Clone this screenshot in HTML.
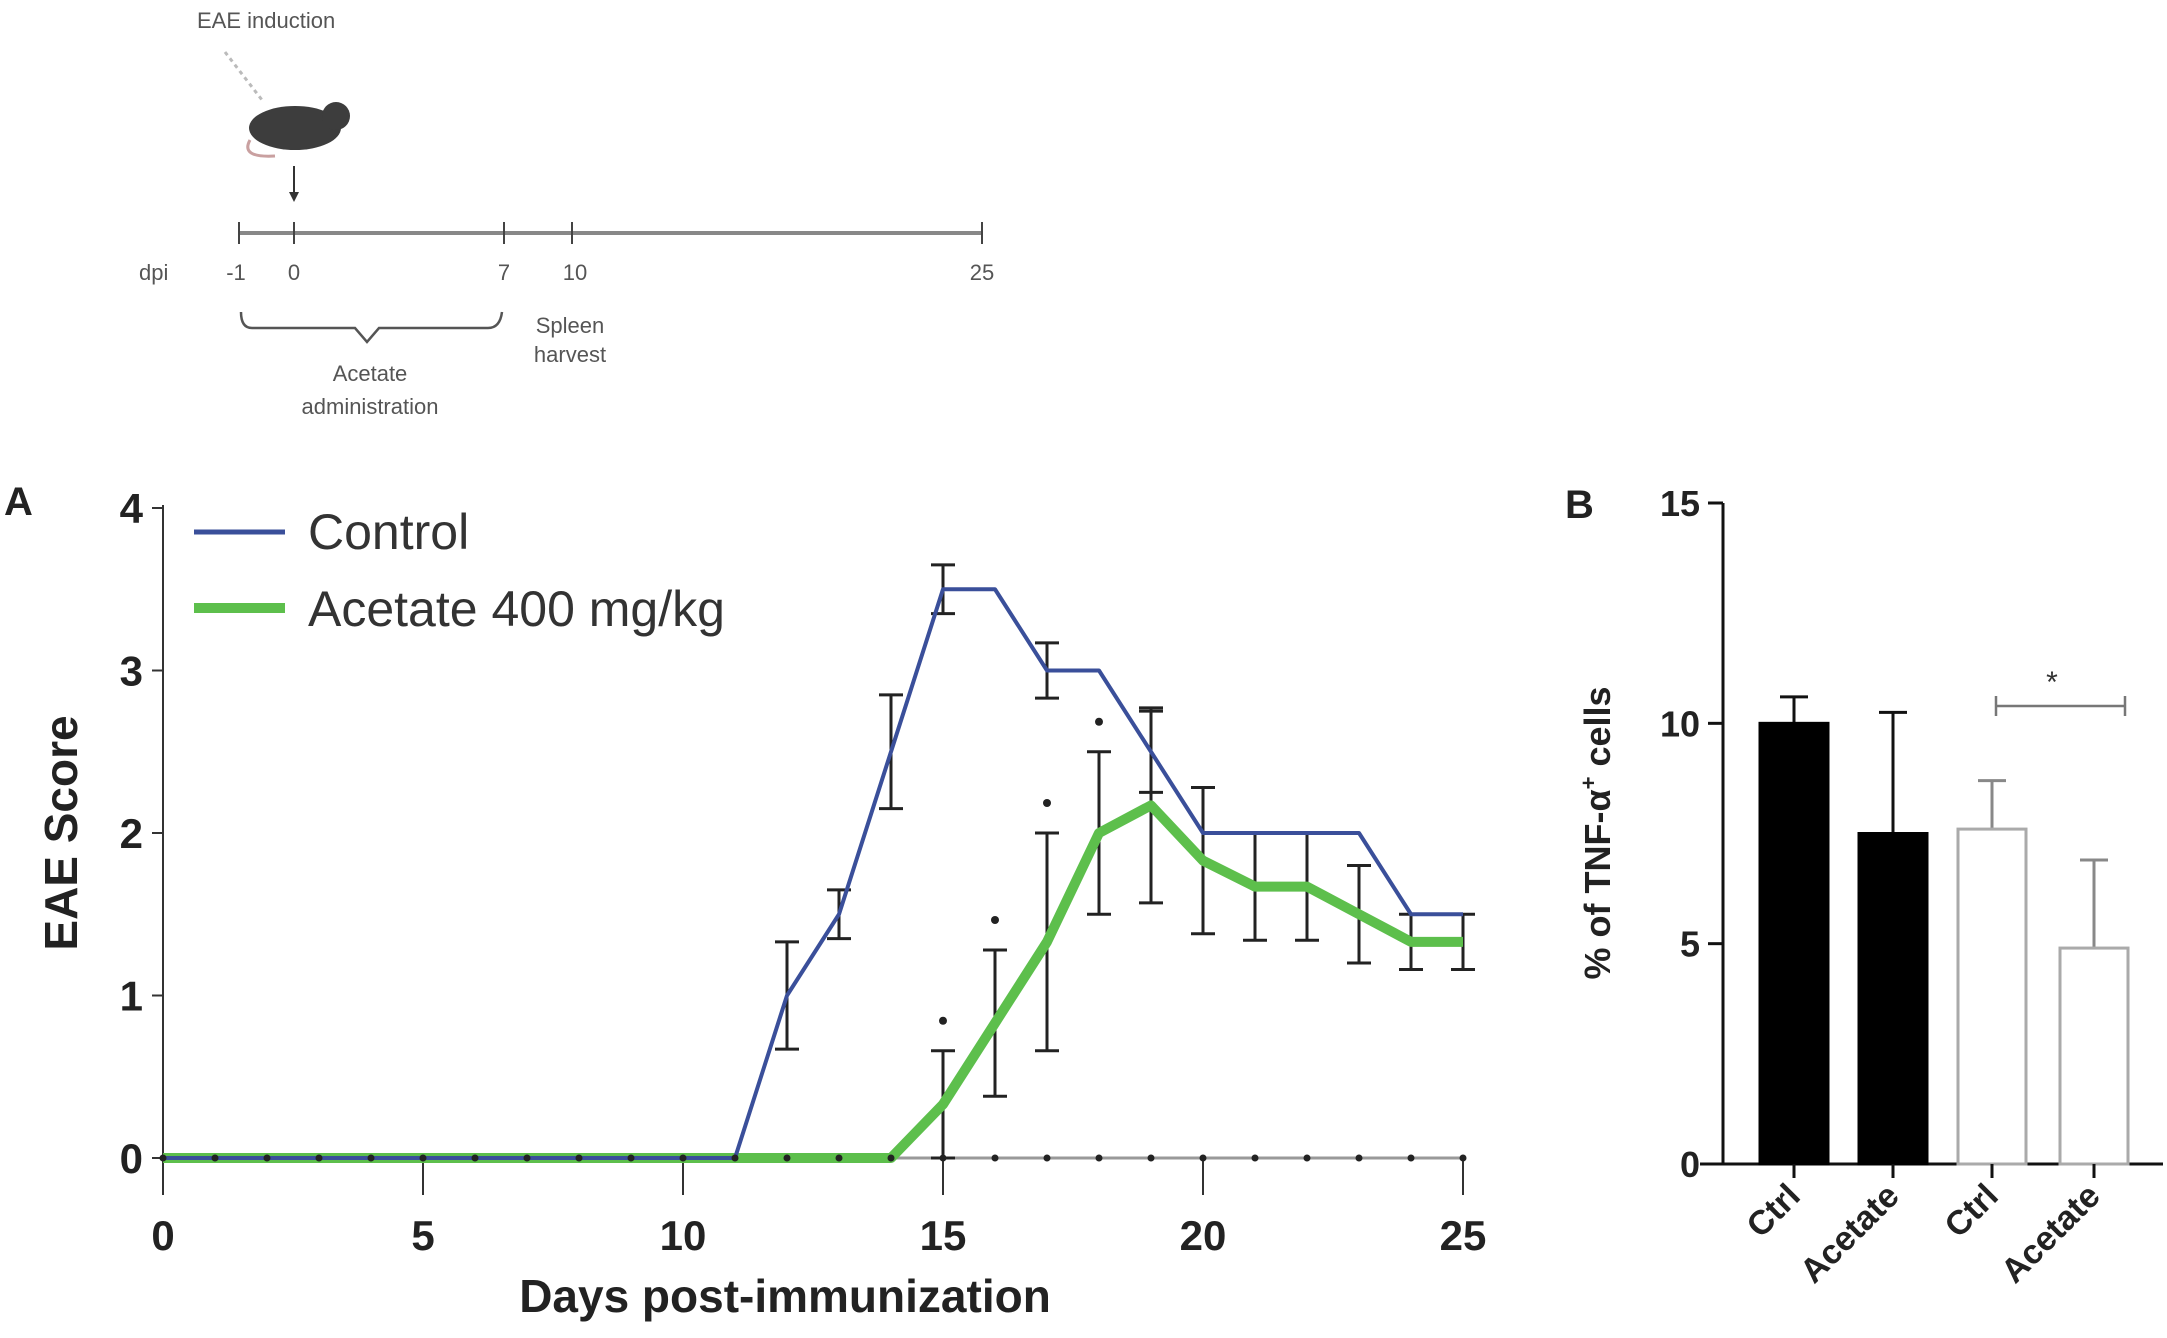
<!DOCTYPE html>
<html><head><meta charset="utf-8">
<style>
html,body{margin:0;padding:0;background:#fff;}
svg{display:block;font-family:"Liberation Sans",Arial,sans-serif;}
</style></head>
<body>
<svg id="fig" width="2167" height="1338" viewBox="0 0 2167 1338">
 <g id="timeline" fill="#555" font-size="22">
  <text x="197" y="28">EAE induction</text>
  <line x1="225" y1="52" x2="262" y2="100" stroke="#bbb" stroke-width="3" stroke-dasharray="4 4"/>
  <g>
   <ellipse cx="295" cy="128" rx="46" ry="22" fill="#3d3d3d"/>
   <circle cx="336" cy="116" r="14" fill="#3d3d3d"/>
   <path d="M250 140 Q240 158 275 156" stroke="#c9a0a0" stroke-width="3" fill="none"/>
  </g>
  <line x1="294" y1="166" x2="294" y2="198" stroke="#333" stroke-width="2"/>
  <path d="M289 192 L294 202 L299 192 Z" fill="#333"/>
  <line x1="239" y1="233" x2="982" y2="233" stroke="#888" stroke-width="4"/>
  <g stroke="#444" stroke-width="2">
   <line x1="239" y1="222" x2="239" y2="244"/><line x1="294" y1="222" x2="294" y2="244"/>
   <line x1="504" y1="222" x2="504" y2="244"/><line x1="572" y1="222" x2="572" y2="244"/>
   <line x1="982" y1="222" x2="982" y2="244"/>
  </g>
  <text x="139" y="280">dpi</text>
  <g text-anchor="middle">
   <text x="236" y="280">-1</text><text x="294" y="280">0</text><text x="504" y="280">7</text><text x="575" y="280">10</text><text x="982" y="280">25</text>
  </g>
  <path d="M241 312 Q241 328 252 328 L355 328 L367 342 L379 328 L488 328 Q500 328 502 312" stroke="#555" stroke-width="2.5" fill="none"/>
  <text x="370" y="381" text-anchor="middle">Acetate</text>
  <text x="370" y="414" text-anchor="middle">administration</text>
  <text x="570" y="333" text-anchor="middle">Spleen</text>
  <text x="570" y="362" text-anchor="middle">harvest</text>
 </g>
 <text x="4" y="515" font-size="40" font-weight="bold" fill="#222">A</text>
 <g id="chartA"></g>
 <text x="1565" y="518" font-size="40" font-weight="bold" fill="#222">B</text>
 <g id="chartB"></g>
</svg>
<script>
const NS="http://www.w3.org/2000/svg";
const days=[0,1,2,3,4,5,6,7,8,9,10,11,12,13,14,15,16,17,18,19,20,21,22,23,24,25];
const controlMean=[0,0,0,0,0,0,0,0,0,0,0,0,1,1.5,2.5,3.5,3.5,3,3,2.5,2,2,2,2,1.5,1.5];
const controlErr=[0,0,0,0,0,0,0,0,0,0,0,0,0.33,0.15,0.35,0.15,0,0.17,0,0.25,0,0,0,0,0,0];
const acetateMean=[0,0,0,0,0,0,0,0,0,0,0,0,0,0,0,0.33,0.83,1.33,2,2.17,1.83,1.67,1.67,1.5,1.33,1.33];
const acetateErr=[0,0,0,0,0,0,0,0,0,0,0,0,0,0,0,0.33,0.45,0.67,0.5,0.6,0.45,0.33,0.33,0.3,0.17,0.17];
const starDays=[15,16,17,18];
const xTicksA=[0,5,10,15,20,25];
const yTicksA=[0,1,2,3,4];
const barLabels=["Ctrl","Acetate","Ctrl","Acetate"];
const barValues=[10,7.5,7.6,4.9];
const barErrors=[0.6,2.75,1.1,2.0];
const yTicksB=[0,5,10,15];

function mk(parent,tag,attrs,text){const e=document.createElementNS(NS,tag);for(const k in attrs)e.setAttribute(k,attrs[k]);if(text!==undefined)e.textContent=text;parent.appendChild(e);return e;}

// Chart A
const A=document.getElementById('chartA');
const xA=d=>163+d*(1463-163)/25;
const yA=v=>1158-v*(1158-508)/4;
mk(A,'line',{x1:163,y1:yA(0),x2:1463,y2:yA(0),stroke:'#999',"stroke-width":3});
const ay=mk(A,'line',{x1:163,y1:505,x2:163,y2:1195,stroke:'#333',"stroke-width":2});

yTicksA.forEach(t=>{
 mk(A,'line',{x1:152,y1:yA(t),x2:163,y2:yA(t),stroke:'#333',"stroke-width":2});
 const l=mk(A,'text',{x:143,y:yA(t)+15,"text-anchor":"end","font-size":42,"font-weight":"bold",fill:"#222"},t);
 
});
xTicksA.forEach(t=>{
 mk(A,'line',{x1:xA(t),y1:1158,x2:xA(t),y2:1195,stroke:'#333',"stroke-width":2});
 const l=mk(A,'text',{x:xA(t),y:1250,"text-anchor":"middle","font-size":42,"font-weight":"bold",fill:"#222"},t);
 
});
const xt=mk(A,'text',{x:785,y:1312,"text-anchor":"middle","font-size":46,"font-weight":"bold",fill:"#222"},"Days post-immunization");

const yt=mk(A,'text',{x:0,y:0,transform:"translate(77,833) rotate(-90)","text-anchor":"middle","font-size":46,"font-weight":"bold",fill:"#222"},"EAE Score");

function errs(mean,err,name){days.forEach((d,i)=>{if(err[i]<=0)return;const x=xA(d),t=yA(mean[i]+err[i]),b=yA(Math.max(0,mean[i]-err[i]));
 const g=mk(A,'g',{stroke:'#222',"stroke-width":3});
 
 mk(g,'line',{x1:x,y1:t,x2:x,y2:b});mk(g,'line',{x1:x-12,y1:t,x2:x+12,y2:t});mk(g,'line',{x1:x-12,y1:b,x2:x+12,y2:b});});}
errs(acetateMean,acetateErr,'acetate-error-bar');
errs(controlMean,controlErr,'control-error-bar');
const pa=mk(A,'polyline',{points:days.map((d,i)=>xA(d)+','+yA(acetateMean[i])).join(' '),fill:'none',stroke:'#5dbf4c',"stroke-width":10,"stroke-linejoin":"round"});

const pc=mk(A,'polyline',{points:days.map((d,i)=>xA(d)+','+yA(controlMean[i])).join(' '),fill:'none',stroke:'#3a4f9a',"stroke-width":4,"stroke-linejoin":"round"});

days.forEach(d=>{mk(A,'circle',{cx:xA(d),cy:yA(0),r:3.5,fill:'#222'});});
starDays.forEach(d=>{const i=days.indexOf(d);const s=mk(A,'circle',{cx:xA(d),cy:yA(acetateMean[i]+acetateErr[i])-30,r:4,fill:'#222'});
 });
const lg=mk(A,'g',{});
const l1=mk(lg,'g',{});
mk(l1,'line',{x1:194,y1:532,x2:285,y2:532,stroke:'#3a4f9a',"stroke-width":5});
mk(l1,'text',{x:308,y:549,"font-size":50,fill:'#333'},"Control");
const l2=mk(lg,'g',{});
mk(l2,'line',{x1:194,y1:608,x2:285,y2:608,stroke:'#5dbf4c',"stroke-width":10});
mk(l2,'text',{x:308,y:626,"font-size":50,fill:'#333'},"Acetate 400 mg/kg");

// Chart B
const B=document.getElementById('chartB');
const yB=v=>1164-v*(1164-503)/15;
const barX=[1760,1859,1958,2060];const bw=68;
const ayb=mk(B,'line',{x1:1723,y1:503,x2:1723,y2:1164,stroke:'#111',"stroke-width":3});

const axb=mk(B,'line',{x1:1700,y1:1164,x2:2163,y2:1164,stroke:'#111',"stroke-width":3});

yTicksB.forEach(t=>{mk(B,'line',{x1:1708,y1:yB(t),x2:1723,y2:yB(t),stroke:'#111',"stroke-width":3});
 const l=mk(B,'text',{x:1700,y:yB(t)+13,"text-anchor":"end","font-size":36,"font-weight":"bold",fill:'#222'},t);
 });
barValues.forEach((v,i)=>{const x=barX[i],cx=x+bw/2,filled=i<2;
 const eb=mk(B,'g',{stroke:filled?'#111':'#888',"stroke-width":3});
 
 mk(eb,'line',{x1:cx,y1:yB(v),x2:cx,y2:yB(v+barErrors[i])});mk(eb,'line',{x1:cx-14,y1:yB(v+barErrors[i]),x2:cx+14,y2:yB(v+barErrors[i])});
 const r=mk(B,'rect',{x:x,y:yB(v),width:bw,height:yB(0)-yB(v),fill:filled?'#000':'#fff',stroke:filled?'#000':'#aaa',"stroke-width":3});
 
 mk(B,'line',{x1:cx,y1:1164,x2:cx,y2:1178,stroke:'#111',"stroke-width":3});
 const l=mk(B,'text',{x:0,y:0,transform:`translate(${cx+8},1198) rotate(-45)`,"text-anchor":"end","font-size":34,"font-weight":"bold",fill:'#222'},barLabels[i]);
 });
const sig=mk(B,'g',{stroke:'#777',"stroke-width":2.5});
mk(sig,'line',{x1:1996,y1:706,x2:2125,y2:706});mk(sig,'line',{x1:1996,y1:696,x2:1996,y2:716});mk(sig,'line',{x1:2125,y1:696,x2:2125,y2:716});
const st=mk(B,'text',{x:2052,y:692,"text-anchor":"middle","font-size":30,fill:'#333'},"*");

const ytb=mk(B,'text',{x:0,y:0,transform:"translate(1610,833) rotate(-90)","text-anchor":"middle","font-size":36,"font-weight":"bold",fill:'#222'});

ytb.textContent="% of TNF-α";
mk(ytb,'tspan',{dy:-14,"font-size":22},"+");
mk(ytb,'tspan',{dy:14}," cells");
</script>
</body></html>
